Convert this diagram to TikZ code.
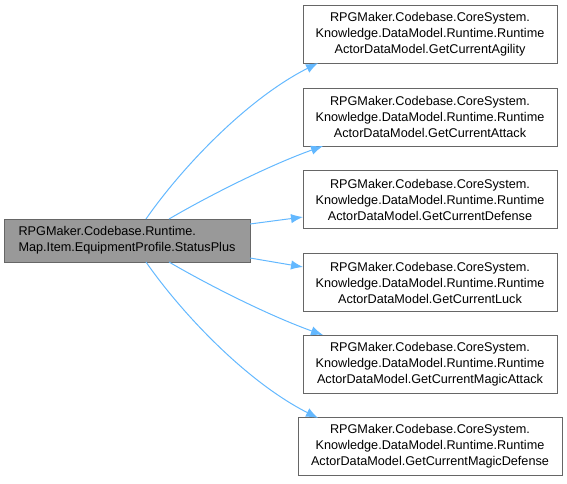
\documentclass[tikz,border=0pt]{standalone}
\usepackage{fontspec}
\setmainfont{Liberation Sans}
\usetikzlibrary{arrows.meta}
\definecolor{edgeblue}{HTML}{63B8FF}
\definecolor{boxborder}{HTML}{666666}
\definecolor{mainfill}{HTML}{999999}
\begin{document}
\begin{tikzpicture}[x=0.75pt,y=-0.75pt,
  every node/.style={font=\fontsize{9.5}{12}\selectfont, inner sep=0pt},
  fn/.style={draw=boxborder, fill=white, line width=0.75pt, minimum width=190.5pt, minimum height=43.5pt, align=center},
  mainbox/.style={draw=boxborder, fill=mainfill, line width=0.75pt, minimum width=184.5pt, minimum height=32.25pt, align=left},
  edge/.style={draw=edgeblue, line width=0.75pt, -{Latex[length=9pt,width=7pt]}}]
\useasboundingbox (0,0) rectangle (567,483);
\node[mainbox] (m) at (127,240.5) {RPGMaker.Codebase.Runtime.\\Map.Item.EquipmentProfile.StatusPlus};
\node[fn] (a) at (430,34) {RPGMaker.Codebase.CoreSystem.\\Knowledge.DataModel.Runtime.Runtime\\ActorDataModel.GetCurrentAgility};
\node[fn] (b) at (430,117) {RPGMaker.Codebase.CoreSystem.\\Knowledge.DataModel.Runtime.Runtime\\ActorDataModel.GetCurrentAttack};
\node[fn] (c) at (430,199.5) {RPGMaker.Codebase.CoreSystem.\\Knowledge.DataModel.Runtime.Runtime\\ActorDataModel.GetCurrentDefense};
\node[fn] (d) at (430,282.5) {RPGMaker.Codebase.CoreSystem.\\Knowledge.DataModel.Runtime.Runtime\\ActorDataModel.GetCurrentLuck};
\node[fn] (e) at (430,364.5) {RPGMaker.Codebase.CoreSystem.\\Knowledge.DataModel.Runtime.Runtime\\ActorDataModel.GetCurrentMagicAttack};
\node[fn, minimum width=198pt] (f) at (430,446.5) {RPGMaker.Codebase.CoreSystem.\\Knowledge.DataModel.Runtime.Runtime\\ActorDataModel.GetCurrentMagicDefense};
\coordinate (m1) at (146,219);
\coordinate (m2) at (169,219);
\coordinate (m3) at (250,224);
\coordinate (m4) at (250,258);
\coordinate (m5) at (169,262);
\coordinate (m6) at (146,262);
\coordinate (a1) at (318,63);
\coordinate (b1) at (323,146);
\coordinate (c1) at (303,217);
\coordinate (d1) at (303,267);
\coordinate (e1) at (323,335);
\coordinate (f1) at (318,418);
\draw[edge] (m1) .. controls (180,170) and (245,100) .. (a1);
\draw[edge] (m2) .. controls (210,195) and (270,165) .. (b1);
\draw[edge] (m3) -- (c1);
\draw[edge] (m4) -- (d1);
\draw[edge] (m5) .. controls (210,286) and (270,316) .. (e1);
\draw[edge] (m6) .. controls (180,311) and (245,381) .. (f1);
\end{tikzpicture}
\end{document}
